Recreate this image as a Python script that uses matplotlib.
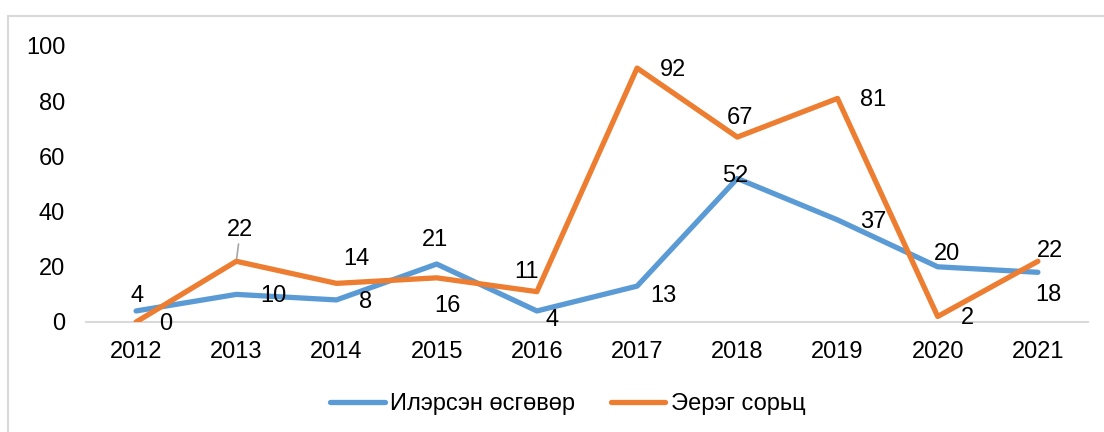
import matplotlib
matplotlib.use("Agg")
import matplotlib.pyplot as plt
from matplotlib.patches import Rectangle

years = ["2012", "2013", "2014", "2015", "2016", "2017", "2018", "2019", "2020", "2021"]
detected = [4, 10, 8, 21, 4, 13, 52, 37, 20, 18]
positive = [0, 22, 14, 16, 11, 92, 67, 81, 2, 22]
name_detected = "Илэрсэн өсгөвөр"
name_positive = "Эерэг сорьц"

# label offsets in pixels (dx, dy)
off_detected = [(1, 15), (37, -2), (29, -2), (-2, 24), (15, -9), (26, -10), (-2, 2), (36, -2), (9, 13), (10, -23)]
off_positive = [(30, -2), (4, 31), (20, 24), (11, -28), (-10, 20), (36, -2), (3, 19), (36, -2), (30, -2), (12, 10)]

plt.rcParams['font.family'] = ['Liberation Sans', 'DejaVu Sans']
FS = 17
BLUE = "#5B9BD5"
ORANGE = "#ED7D31"

fig = plt.figure(figsize=(11.04, 4.32), dpi=100)
fig.patches.append(Rectangle((8 / 1104, -0.1), 1.2, 1 - 16 / 432 + 0.1, transform=fig.transFigure,
                             fill=False, edgecolor="#D9D9D9", linewidth=1.5))
ax = fig.add_axes([86 / 1104, 1 - 322 / 432, (1088 - 86) / 1104, (322 - 46) / 432])
x = list(range(len(years)))
ax.plot(x, detected, color=BLUE, lw=3.8, solid_capstyle='round', solid_joinstyle='round', label=name_detected, zorder=3)
ax.plot(x, positive, color=ORANGE, lw=3.8, solid_capstyle='round', solid_joinstyle='round', label=name_positive, zorder=3)

ax.set_xlim(-0.5, len(years) - 0.5)
ax.set_ylim(0, 100)
ax.set_yticks([0, 20, 40, 60, 80, 100])
ax.set_xticks(x)
ax.set_xticklabels(years)
ax.tick_params(axis='both', length=0, labelsize=FS, colors="#000000")
ax.tick_params(axis='y', pad=15)
ax.tick_params(axis='x', pad=14)
for s in ['top', 'right', 'left']:
    ax.spines[s].set_visible(False)
ax.spines['bottom'].set_color("#D9D9D9")
ax.spines['bottom'].set_linewidth(1.5)
ax.spines['bottom'].set_zorder(1)
ax.patch.set_visible(False)

for i, v in enumerate(detected):
    ax.annotate(str(v), (i, v), xytext=off_detected[i], textcoords='offset pixels',
                ha='center', va='center', fontsize=FS, zorder=4)
for i, v in enumerate(positive):
    kw = {}
    if i == 1:
        kw = dict(arrowprops=dict(arrowstyle='-', color="#A6A6A6", lw=1.2, shrinkA=0, shrinkB=2))
    ax.annotate(str(v), (i, v), xytext=off_positive[i], textcoords='offset pixels',
                ha='center', va='center', fontsize=FS, zorder=4, **kw)

fig.legend(loc='center', bbox_to_anchor=(568 / 1104, 1 - 404 / 432), ncol=2, frameon=False,
           fontsize=FS, handlelength=2.3, handletextpad=0.25, columnspacing=1.5)

fig.savefig("out.png", dpi=100)
